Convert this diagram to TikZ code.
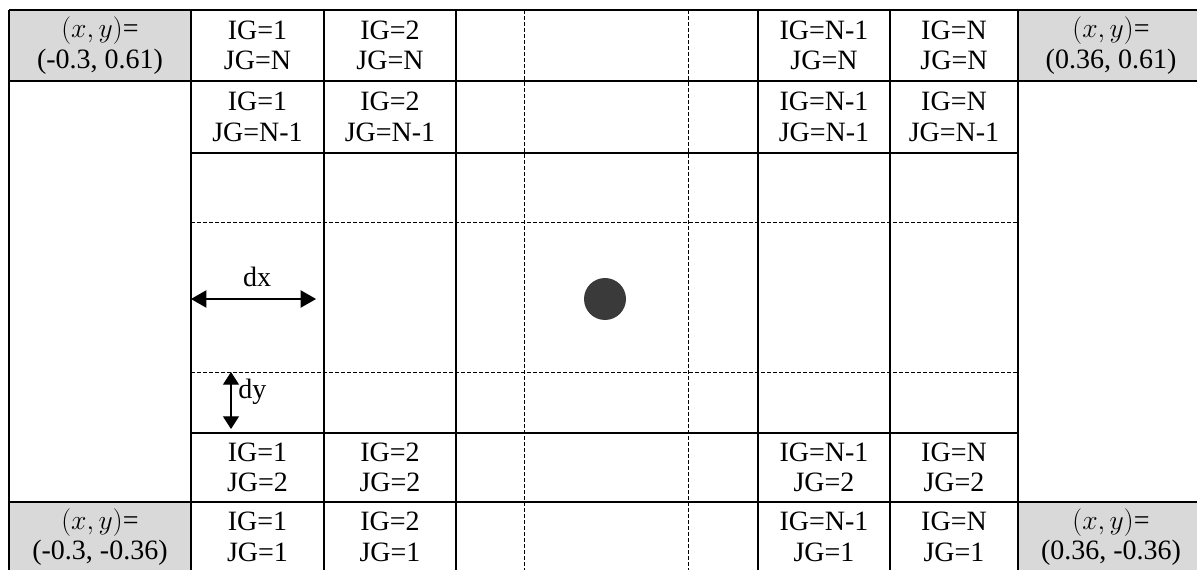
\documentclass[tikz,border=0pt]{standalone}
\usepackage{fontspec}
\setmainfont{Liberation Serif}
\usepackage{xcolor}
\usetikzlibrary{positioning,arrows.meta,calc}
\definecolor{cornergray}{HTML}{D9D9D9}
\definecolor{dotgray}{HTML}{3A3A3A}
\tikzset{
  cell/.style={align=center,inner sep=0pt,font=\fontsize{21}{23}\selectfont},
  lbl/.style={inner sep=0pt,font=\fontsize{21}{23}\selectfont},
  gridline/.style={line width=0.9pt},
  dashline/.style={line width=0.45pt,dash pattern=on 3pt off 1.5pt},
  corner/.style={fill=cornergray,draw=none},
  dimarrow/.style={{Triangle[length=11.5pt,width=13pt]}-{Triangle[length=11.5pt,width=13pt]},line width=0.8pt},
  smallarrow/.style={{Triangle[length=9.5pt,width=12pt]}-{Triangle[length=9.5pt,width=12pt]},line width=0.8pt}
}
\begin{document}
\begin{tikzpicture}[x=0.75pt,y=-0.75pt]
  \useasboundingbox (0,0) rectangle (1197,570);

  % shaded corner cells
  \fill[corner] (9,10) rectangle (191,81);
  \fill[corner] (1018,10) rectangle (1197,81);
  \fill[corner] (9,502) rectangle (191,570);
  \fill[corner] (1018,502) rectangle (1197,570);

  % grid
  \foreach \x in {524,688}
    \draw[dashline] (\x,10) -- (\x,570);
  \foreach \y in {222,372}
    \draw[dashline] (191,\y) -- (1018,\y);
  \foreach \x in {9,191,324,456,758,890,1018}
    \draw[gridline] (\x,10) -- (\x,570);
  \foreach \y in {10,81,502}
    \draw[gridline] (9,\y) -- (1197,\y);
  \foreach \y in {153,433}
    \draw[gridline] (191,\y) -- (1018,\y);

  % cell indices
  \foreach \x/\ig in {257.5/1,390/2,824/N-1,954/N}
    \foreach \y/\jg in {45.5/N,117/N-1,467.5/2,537/1}
      \node[cell] (ig\ig-jg\jg) at (\x,\y) {IG=\ig\\JG=\jg};

  % corner coordinates
  \node[cell] (topleft) at (100,45.5) {$(x,y)$=\\(-0.3, 0.61)};
  \node[cell] (topright) at (1111,45.5) {$(x,y)$=\\(0.36, 0.61)};
  \node[cell] (botleft) at (100,537) {$(x,y)$=\\(-0.3, -0.36)};
  \node[cell] (botright) at (1111,537) {$(x,y)$=\\(0.36, -0.36)};

  % spacing
  \coordinate (dxstart) at (191,299);
  \coordinate (dxend) at (316,299);
  \draw[dimarrow] (dxstart) -- (dxend);
  \node[lbl] (dxlabel) at (257,277) {dx};
  \coordinate (dystart) at (231,372);
  \coordinate (dyend) at (231,429);
  \draw[smallarrow] (dystart) -- (dyend);
  \node[lbl, anchor=west] (dylabel) at (238,392) {dy};

  \node[circle, fill=dotgray, inner sep=0pt, minimum size=31.5pt] (particle) at (605,299) {};
\end{tikzpicture}
\end{document}
